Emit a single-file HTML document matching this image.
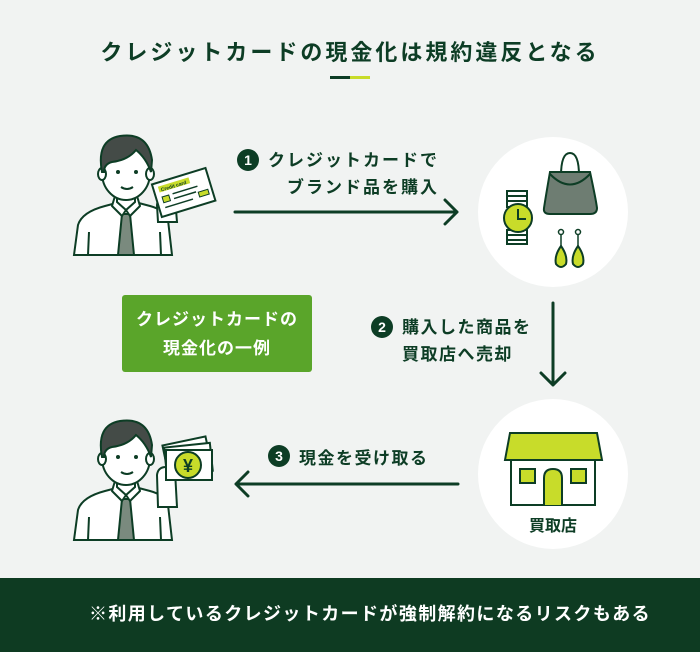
<!DOCTYPE html>
<html><head><meta charset="utf-8"><style>
body{margin:0;width:700px;height:652px;background:#f1f3f2;font-family:"Liberation Sans","Noto Sans CJK JP",sans-serif;overflow:hidden;position:relative}
.t{position:absolute;color:#0d3d25;font-weight:bold;white-space:nowrap}
</style></head><body>
<svg width="700" height="652" style="position:absolute;left:0;top:0">
<defs>
<g id="man">
 <path d="M14 145 L18 115 Q22 102 45 96 L60 92 L75 92 L90 96 Q105 100 108 110 L112 145 Z" fill="#fff" stroke="#0d3d25" stroke-width="2"/>
 <path d="M29 122 L28 145 M100 122 L101 145" stroke="#0d3d25" stroke-width="2" fill="none"/>
 <path d="M62 104 L70 104 L74 145 L58 145 Z" fill="#7a8a7e" stroke="#0d3d25" stroke-width="2"/>
 <path d="M55 86 L52 96 L62 106 L66 100 L70 106 L80 96 L77 86" fill="#fff" stroke="#0d3d25" stroke-width="2" stroke-linejoin="round"/>
 <path d="M57 80 L57 92 L66 100 L75 92 L75 80" fill="#fff" stroke="#0d3d25" stroke-width="2"/>
 <ellipse cx="66" cy="63" rx="24" ry="27" fill="#fff" stroke="#0d3d25" stroke-width="2"/>
 <ellipse cx="42" cy="64" rx="4" ry="6" fill="#fff" stroke="#0d3d25" stroke-width="2"/>
 <ellipse cx="90" cy="64" rx="4" ry="6" fill="#fff" stroke="#0d3d25" stroke-width="2"/>
 <path d="M42 62 Q36 30 60 26 Q88 22 92 50 L91 62 Q86 48 76 40 Q68 50 52 52 Q44 54 44 62 Z" fill="#444b47" stroke="#0d3d25" stroke-width="2"/>
 <circle cx="58" cy="62" r="2" fill="#0d3d25"/><circle cx="76" cy="62" r="2" fill="#0d3d25"/>
 <path d="M61 77 Q67 81 73 77" stroke="#0d3d25" stroke-width="2" fill="none"/>
</g>
</defs>
<rect x="330" y="76" width="20" height="3" fill="#0d3d25"/><rect x="350" y="76" width="20" height="3" fill="#c8dc2a"/>

<g transform="translate(60,110)">
 <use href="#man"/>
 <path d="M98 112 L97 95 Q98 85 106 84 L115 88 L117 112 Z" fill="#fff" stroke="#0d3d25" stroke-width="2"/>
 <g transform="rotate(-17 125 80)">
  <rect x="95" y="65" width="56" height="34" fill="#fff" stroke="#0d3d25" stroke-width="2"/>
  <rect x="100" y="69" width="32" height="6" fill="#c8dc2a"/>
  <text x="102" y="74.5" font-size="5" font-weight="bold" fill="#0d3d25">Credit card</text>
  <rect x="101" y="80" width="7" height="6" fill="#c8dc2a" stroke="#0d3d25" stroke-width="1"/>
  <path d="M112 80 H138 M112 85 H135 M101 91 H130" stroke="#0d3d25" stroke-width="1.5"/>
  <rect x="137" y="86" width="10" height="5" fill="#c8dc2a" stroke="#0d3d25" stroke-width="1"/>
 </g>
</g>

<g transform="translate(60,395)">
 <use href="#man"/>
 <path d="M98 112 L97 80 Q98 72 106 72 L115 76 L117 112 Z" fill="#fff" stroke="#0d3d25" stroke-width="2"/>
 <g transform="rotate(-12 130 60)"><rect x="105" y="45" width="44" height="28" fill="#fff" stroke="#0d3d25" stroke-width="2"/></g>
 <g transform="rotate(-6 130 60)"><rect x="105" y="50" width="46" height="28" fill="#fff" stroke="#0d3d25" stroke-width="2"/></g>
 <rect x="106" y="55" width="46" height="30" fill="#fff" stroke="#0d3d25" stroke-width="2"/>
 <circle cx="128" cy="70" r="13" fill="#c8dc2a" stroke="#0d3d25" stroke-width="2"/>
 <text x="128" y="77" font-size="18" font-weight="bold" fill="#0d3d25" text-anchor="middle">¥</text>
</g>

<circle cx="553" cy="212" r="75" fill="#fff"/>
<circle cx="553" cy="474" r="75" fill="#fff"/>

<g stroke="#0d3d25" stroke-width="2" fill="none">
 <rect x="507" y="191" width="20" height="16"/><path d="M507 196 H527 M507 201 H527"/>
 <rect x="507" y="230" width="20" height="14"/><path d="M507 235 H527 M507 240 H527"/>
 <circle cx="518" cy="218" r="14" fill="#c8dc2a"/>
 <path d="M518 209 V219 H526"/>
 <path d="M561 176 Q561 153 570 153 Q579 153 579 176"/>
 <path d="M550 172 H590 Q596 200 597 208 Q597 214 590 214 H550 Q543 214 544 208 Q546 195 550 172 Z" fill="#6e7d72"/>
 <path d="M550 174 Q570 195 590 174"/>
 <circle cx="561" cy="232" r="2.5" stroke-width="1.5"/><path d="M561 235 V246" stroke-width="1.5"/>
 <path d="M561 246 Q554 256 556 264 Q561 270 566 264 Q568 256 561 246 Z" fill="#c8dc2a"/>
 <circle cx="578" cy="232" r="2.5" stroke-width="1.5"/><path d="M578 235 V246" stroke-width="1.5"/>
 <path d="M578 246 Q571 256 573 264 Q578 270 583 264 Q585 256 578 246 Z" fill="#c8dc2a"/>
 <path d="M510 433 H597 L602 460 H505 Z" fill="#c8dc2a"/>
 <rect x="511" y="460" width="84" height="45" fill="#fff"/>
 <rect x="520" y="469" width="15" height="14" fill="#c8dc2a"/>
 <rect x="571" y="469" width="15" height="14" fill="#c8dc2a"/>
 <path d="M544 505 V478 Q544 469 553 469 Q562 469 562 478 V505" fill="#c8dc2a"/>
</g>

<g stroke="#0d3d25" stroke-width="3" fill="none" stroke-linecap="round" stroke-linejoin="round">
 <path d="M235 212 H457 M445 200 L457 212 L445 224"/>
 <path d="M553 303 V385 M541 373 L553 385 L565 373"/>
 <path d="M458 484 H236 M248 472 L236 484 L248 496"/>
</g>
<g fill="#0d3d25"><circle cx="248" cy="160" r="11"/><circle cx="382" cy="327" r="11"/><circle cx="279" cy="456" r="11"/></g>
<g fill="#fff" font-size="14" font-weight="bold" text-anchor="middle"><text x="248" y="165">1</text><text x="382" y="332">2</text><text x="279" y="461">3</text></g>

<rect x="122" y="295" width="190" height="77" rx="3" fill="#5aa52a"/>
<rect x="0" y="578" width="700" height="74" fill="#0e3b22"/>
</svg>

<div class="t" style="left:0;width:700px;text-align:center;top:35px;font-size:22px;letter-spacing:3px">クレジットカードの現金化は規約違反となる</div>
<div class="t" style="left:268px;top:147px;font-size:17px;line-height:27px;text-align:right;letter-spacing:2px">クレジットカードで<br>ブランド品を購入</div>
<div class="t" style="left:402px;top:314px;font-size:17px;line-height:27px;letter-spacing:1.5px">購入した商品を<br>買取店へ売却</div>
<div class="t" style="left:299px;top:444px;font-size:17px;letter-spacing:1.5px">現金を受け取る</div>
<div class="t" style="left:122px;width:190px;text-align:center;top:305px;font-size:17px;line-height:29px;color:#fff;letter-spacing:1px">クレジットカードの<br>現金化の一例</div>
<div class="t" style="left:500px;width:106px;text-align:center;top:512px;font-size:16px">買取店</div>
<div class="t" style="left:20px;width:700px;text-align:center;top:600px;font-size:18px;color:#fff;letter-spacing:1.4px">※利用しているクレジットカードが強制解約になるリスクもある</div>
</body></html>
